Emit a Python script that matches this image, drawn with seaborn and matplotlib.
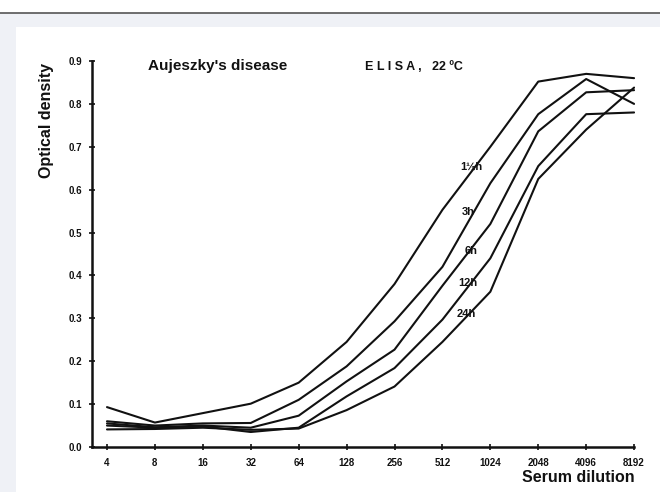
import matplotlib
matplotlib.use("Agg")
import matplotlib.pyplot as plt
import seaborn as sns
import pandas as pd
from matplotlib.patches import Rectangle
from matplotlib.lines import Line2D

# ---- data ----
dilutions = [4, 8, 16, 32, 64, 128, 256, 512, 1024, 2048, 4096, 8192]
tick_labels = ["4", "8", "16", "32", "64", "128", "256", "512", "1024", "2048", "4096", "8192"]
series_names = ["1½h", "3h", "6h", "12h", "24h"]
od_1_5h = [0.093, 0.057, 0.079, 0.101, 0.150, 0.245, 0.380, 0.553, 0.700, 0.852, 0.870, 0.860]
od_3h = [0.060, 0.050, 0.055, 0.056, 0.110, 0.188, 0.293, 0.420, 0.615, 0.776, 0.858, 0.800]
od_6h = [0.055, 0.046, 0.050, 0.045, 0.073, 0.153, 0.227, 0.376, 0.520, 0.736, 0.827, 0.832]
od_12h = [0.050, 0.045, 0.048, 0.035, 0.045, 0.118, 0.184, 0.297, 0.440, 0.655, 0.776, 0.780]
od_24h = [0.041, 0.042, 0.045, 0.040, 0.043, 0.086, 0.141, 0.245, 0.362, 0.625, 0.740, 0.838]
y_ticks = [0.0, 0.1, 0.2, 0.3, 0.4, 0.5, 0.6, 0.7, 0.8, 0.9]
y_tick_labels = ["0.0", "0.1", "0.2", "0.3", "0.4", "0.5", "0.6", "0.7", "0.8", "0.9"]

all_series = [od_1_5h, od_3h, od_6h, od_12h, od_24h]
rows = []
for name, vals in zip(series_names, all_series):
    for d, v in zip(dilutions, vals):
        rows.append({"dilution": d, "od": v, "time": name})
df = pd.DataFrame(rows)

sns.set_style("ticks")
plt.rcParams['font.family'] = ['Liberation Sans', 'DejaVu Sans']

fig = plt.figure(figsize=(6.6, 4.92), dpi=100)
fig.patch.set_facecolor("white")

# page-like frame of the screenshot
fig.patches.append(Rectangle((0, 0), 1, 1 - 12.5 / 492, transform=fig.transFigure,
                             facecolor="#eff1f6", edgecolor="none", zorder=-3))
fig.patches.append(Rectangle((16 / 660, 0), 1, 1 - 27 / 492, transform=fig.transFigure,
                             facecolor="white", edgecolor="none", zorder=-2))
fig.lines.append(Line2D([0, 1], [1 - 12.5 / 492, 1 - 12.5 / 492], transform=fig.transFigure,
                        color="#555555", lw=1.2))

ax = fig.add_axes([92 / 660, 1 - 447 / 492, (635 - 92) / 660, (447 - 61) / 492])
ax.set_facecolor("none")

sns.lineplot(data=df, x="dilution", y="od", hue="time", hue_order=series_names,
             palette={n: "#111111" for n in series_names}, legend=False,
             linewidth=1.5, ax=ax)

ax.set_xscale("log", base=2)
ax.set_xlim(3.22, 8300)
ax.set_ylim(0, 0.9)
ax.set_xticks(dilutions)
ax.set_xticklabels(tick_labels)
ax.minorticks_off()
ax.set_yticks(y_ticks)
ax.set_yticklabels(y_tick_labels)
ax.tick_params(axis="both", direction="inout", length=4, width=1.2, labelsize=7,
               colors="#111111")
ax.tick_params(axis="x", pad=6)
ax.tick_params(axis="y", pad=5)
for lab in ax.get_xticklabels() + ax.get_yticklabels():
    lab.set_fontweight("bold")
for s in ["top", "right"]:
    ax.spines[s].set_visible(False)
for s in ["left", "bottom"]:
    ax.spines[s].set_linewidth(1.8)
    ax.spines[s].set_color("#111111")
ax.spines["bottom"].set_bounds(3.22, 8192)
ax.set_xlabel("")
ax.set_ylabel("")

# curve labels
label_x = [780, 740, 770, 745, 725]
label_y = [0.654, 0.547, 0.456, 0.383, 0.311]
for name, lx, ly in zip(series_names, label_x, label_y):
    ax.text(lx, ly, name, fontsize=8, fontweight="bold", ha="center", va="center",
            color="#111111")

ax.text(0.232, 0.987, "Aujeszky's disease", transform=ax.transAxes, fontsize=11,
        fontweight="bold", ha="center", va="center", color="#111111")
ax.text(0.592, 0.984, "E L I S A ,   22 ºC", transform=ax.transAxes, fontsize=9,
        fontweight="bold", ha="center", va="center", color="#111111")

fig.text(47 / 660, 1 - 120 / 492, "Optical density", rotation=90, fontsize=11.5,
         fontweight="bold", ha="center", va="center", color="#111111")
fig.text(578 / 660, 1 - 477 / 492, "Serum dilution", fontsize=11.5,
         fontweight="bold", ha="center", va="center", color="#111111")

fig.savefig("out.png", dpi=100)
